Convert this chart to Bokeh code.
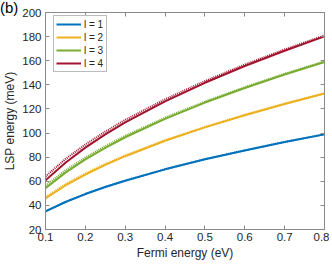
from bokeh.plotting import figure
from bokeh.models import Range1d, LinearAxis, FixedTicker, Legend, LegendItem, Div
from bokeh.layouts import column
from bokeh.embed import file_html
from bokeh.resources import INLINE

fermi = [0.1, 0.15, 0.2, 0.25, 0.3, 0.4, 0.5, 0.6, 0.7, 0.8]

# numerical (solid)
l1 = [35.0, 42.8, 49.4, 55.3, 60.5, 69.9, 78.2, 85.6, 92.5, 98.9]
l2 = [45.8, 56.5, 65.6, 73.6, 80.8, 93.6, 104.7, 114.8, 124.1, 132.8]
l3 = [54.3, 67.2, 78.1, 87.8, 96.5, 111.8, 125.3, 137.4, 148.6, 159.0]
l4 = [60.8, 75.4, 87.9, 98.9, 108.8, 126.3, 141.7, 155.6, 168.3, 180.2]

# analytical (dotted)
l1_an = [35.0, 42.9, 49.5, 55.4, 60.6, 70.0, 78.3, 85.7, 92.6, 99.0]
l2_an = [47.0, 57.6, 66.5, 74.4, 81.4, 94.1, 105.1, 115.2, 124.4, 133.0]
l3_an = [56.4, 69.1, 79.7, 89.2, 97.7, 112.8, 126.1, 138.1, 149.2, 159.5]
l4_an = [64.0, 78.4, 90.5, 101.2, 110.9, 128.0, 143.1, 156.8, 169.3, 181.0]

labels = ["l = 1", "l = 2", "l = 3", "l = 4"]
colors = ["#0072BD", "#EDB120", "#77AC30", "#A2142F"]
x_ticks = [0.1, 0.2, 0.3, 0.4, 0.5, 0.6, 0.7, 0.8]
y_ticks = [20, 40, 60, 80, 100, 120, 140, 160, 180, 200]
panel_tag = "(b)"

FONT = "Liberation Sans"
TXT = "#262626"
AX = "#8a8a8a"

p = figure(frame_width=279, frame_height=217, output_backend="svg", toolbar_location=None,
           x_range=Range1d(0.1, 0.8), y_range=Range1d(20, 200),
           min_border_left=38, min_border_right=5, min_border_top=12,
           min_border_bottom=31, x_axis_location=None, y_axis_location=None)
p.grid.visible = False
p.outline_line_color = AX
p.outline_line_width = 1
p.background_fill_color = "white"
p.border_fill_color = None

def style_axis(ax, show_labels):
    ax.axis_line_color = AX
    ax.major_tick_line_color = AX
    ax.major_tick_in = 4
    ax.major_tick_out = 0
    ax.minor_tick_line_color = None
    if show_labels:
        ax.major_label_text_font = FONT
        ax.major_label_text_font_size = "11.5px"
        ax.major_label_text_color = TXT
        ax.axis_label_text_font = FONT
        ax.axis_label_text_font_size = "12px"
        ax.axis_label_text_font_style = "normal"
        ax.axis_label_text_color = TXT
    else:
        ax.major_label_text_font_size = "0px"
        ax.major_label_text_color = None

xb = LinearAxis(ticker=FixedTicker(ticks=x_ticks), axis_label="Fermi energy (eV)")
style_axis(xb, True)
xb.major_label_standoff = 3
xb.axis_label_standoff = 2
yl = LinearAxis(ticker=FixedTicker(ticks=y_ticks), axis_label="LSP energy (meV)")
style_axis(yl, True)
yl.major_label_standoff = 4
yl.axis_label_standoff = 2
xt = LinearAxis(ticker=FixedTicker(ticks=x_ticks))
style_axis(xt, False)
xt.major_label_standoff = 0
yr = LinearAxis(ticker=FixedTicker(ticks=y_ticks))
style_axis(yr, False)
yr.major_label_standoff = 0
p.add_layout(xb, "below")
p.add_layout(yl, "left")
p.add_layout(xt, "above")
p.add_layout(yr, "right")

solid = [l1, l2, l3, l4]
dotted = [l1_an, l2_an, l3_an, l4_an]
items = []
for s, d, c, lab in zip(solid, dotted, colors, labels):
    r = p.line(fermi, s, line_color=c, line_width=2)
    p.line(fermi, d, line_color=c, line_width=2, line_dash="1 1")
    items.append(LegendItem(label=lab, renderers=[r]))

legend = Legend(items=items, location=(8, 157))
legend.label_text_font = FONT
legend.label_text_font_size = "10px"
legend.label_text_color = TXT
legend.glyph_width = 25
legend.glyph_height = 12
legend.label_height = 12
legend.label_standoff = 3
legend.spacing = 1
legend.padding = 2
legend.margin = 0
legend.border_line_color = "#7a7a7a"
legend.border_line_width = 1
legend.background_fill_alpha = 1
p.add_layout(legend, "center")

tag = Div(text='<span style="font-family:\'Liberation Sans\';font-size:15px;line-height:16px;color:black">'
          + panel_tag + '</span>', width=30, height=18, margin=(0, 0, -18, 0))

layout = column(tag, p, spacing=0)
open("out.html", "w").write(file_html(layout, INLINE))
